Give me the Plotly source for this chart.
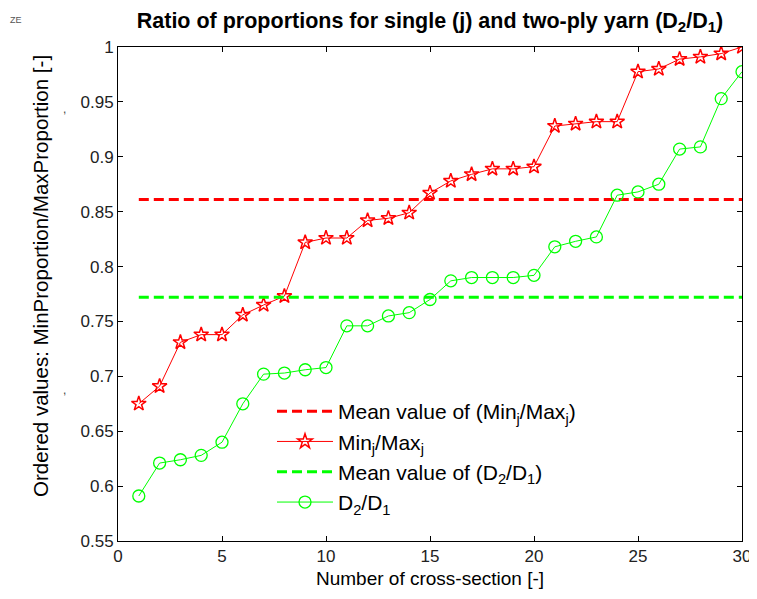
import plotly.graph_objects as go

x_sections = list(range(1, 31))
ratio_minmax = [0.675, 0.691, 0.731, 0.738, 0.738, 0.756, 0.765, 0.773, 0.822, 0.826,
                0.826, 0.842, 0.844, 0.849, 0.867, 0.878, 0.884, 0.889, 0.889, 0.891,
                0.928, 0.930, 0.932, 0.932, 0.9775, 0.980, 0.989, 0.991, 0.994, 1.0]
ratio_d2d1 = [0.591, 0.621, 0.624, 0.628, 0.640, 0.675, 0.702, 0.703, 0.706, 0.708,
              0.746, 0.746, 0.755, 0.758, 0.770, 0.787, 0.790, 0.790, 0.790, 0.792,
              0.818, 0.823, 0.827, 0.865, 0.868, 0.875, 0.907, 0.909, 0.953, 0.9775]
mean_minmax = 0.861
mean_d2d1 = 0.772
mean_x = [1, 30]

y_tickvals = [0.55, 0.6, 0.65, 0.7, 0.75, 0.8, 0.85, 0.9, 0.95, 1.0]
y_ticktext = ["0.55", "0.6", "0.65", "0.7", "0.75", "0.8", "0.85", "0.9", "0.95", "1"]
x_tickvals = [0, 5, 10, 15, 20, 25, 30]
x_ticktext = ["0", "5", "10", "15", "20", "25", "30"]

RED = "#ff0000"
GREEN = "#00ff00"
FONT = "Liberation Sans, Arial, sans-serif"

fig = go.Figure()
fig.add_trace(go.Scatter(
    x=mean_x, y=[mean_minmax] * 2, mode="lines",
    line=dict(color=RED, width=3, dash="10px,5px"),
    name="Mean value of (Min<sub>j</sub>/Max<sub>j</sub>)"))
fig.add_trace(go.Scatter(
    x=x_sections, y=ratio_minmax, mode="lines+markers",
    line=dict(color=RED, width=1),
    marker=dict(symbol="star-open", size=11, color=RED, line=dict(width=1.5, color=RED)),
    name="Min<sub>j</sub>/Max<sub>j</sub>"))
fig.add_trace(go.Scatter(
    x=mean_x, y=[mean_d2d1] * 2, mode="lines",
    line=dict(color=GREEN, width=3, dash="10px,5px"),
    name="Mean value of (D<sub>2</sub>/D<sub>1</sub>)"))
fig.add_trace(go.Scatter(
    x=x_sections, y=ratio_d2d1, mode="lines+markers",
    line=dict(color=GREEN, width=1),
    marker=dict(symbol="circle-open", size=12, color=GREEN, line=dict(width=1.3, color=GREEN)),
    name="D<sub>2</sub>/D<sub>1</sub>"))

axis_common = dict(showgrid=False, zeroline=False, showline=True, linecolor="black",
                   linewidth=1, mirror="allticks", ticks="inside", ticklen=5,
                   tickcolor="black", tickfont=dict(family=FONT, size=17, color="#222"))

# the page body adds an 8px offset; margins are set so the plot box lands where the reference has it
L, R, T, B = 110, 23, 39, 66
W, H = 757, 599
PW, PH = W - L - R, H - T - B


def px(xf):
    return (xf - L) / PW


def py(yf):
    return 1 - (yf - T) / PH


fig.update_layout(
    width=W, height=H,
    margin=dict(l=L, r=R, t=T, b=B),
    paper_bgcolor="white", plot_bgcolor="white",
    font=dict(family=FONT, color="black"),
    title=dict(text="<b>Ratio of proportions for single (j) and two-ply yarn (D<sub>2</sub>/D<sub>1</sub>)</b>",
               x=422 / W, xanchor="center", y=1 - 12 / H, yanchor="middle",
               font=dict(family=FONT, size=21.5, color="black")),
    xaxis=dict(range=[0, 30], tickvals=x_tickvals, ticktext=x_ticktext,
               title=dict(text="Number of cross-section [-]", font=dict(family=FONT, size=19), standoff=6),
               **axis_common),
    yaxis=dict(range=[0.55, 1.0], tickvals=y_tickvals, ticktext=y_ticktext, **axis_common),
    legend=dict(x=px(264), y=py(383), xanchor="left", yanchor="top",
                bgcolor="rgba(255,255,255,1)", borderwidth=0,
                font=dict(family=FONT, size=21, color="black"),
                tracegroupgap=0, itemwidth=56),
    showlegend=True,
)

fig.add_annotation(text="Ordered values: MinProportion/MaxProportion [-]",
                   x=px(32), y=py(268), xref="paper", yref="paper", textangle=-90,
                   xanchor="center", yanchor="middle", showarrow=False,
                   font=dict(family=FONT, size=20.5, color="black"))
fig.add_annotation(text="ZE", x=px(0), y=py(12),
                   xref="paper", yref="paper",
                   xanchor="left", yanchor="middle", showarrow=False,
                   font=dict(family=FONT, size=9, color="#555"))
for mark_y in (101, 382):
    fig.add_annotation(text=",", x=px(56), y=py(mark_y),
                       xref="paper", yref="paper",
                       xanchor="center", yanchor="middle", showarrow=False,
                       font=dict(family=FONT, size=12, color="#444"))

fig.write_html("out.html")
